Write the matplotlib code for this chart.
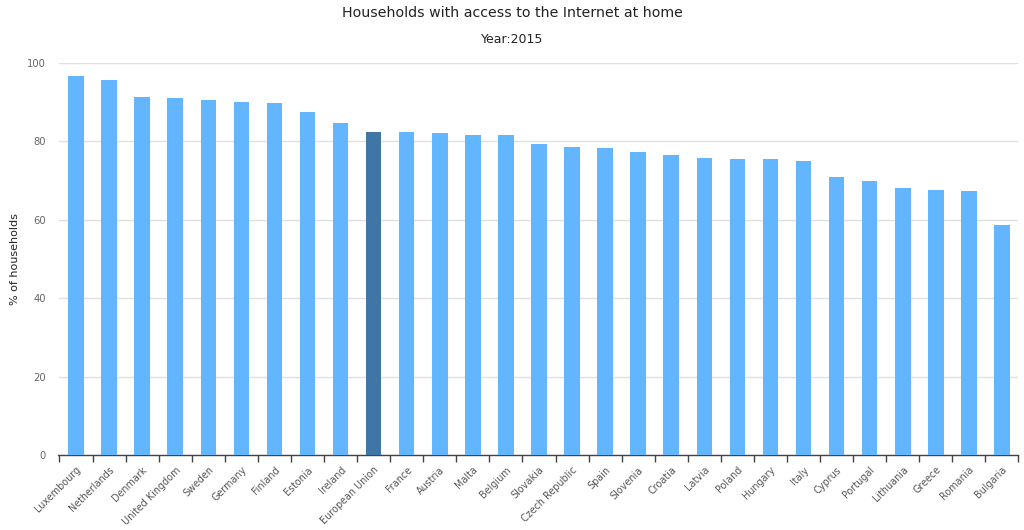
import matplotlib
matplotlib.use("Agg")
import matplotlib.pyplot as plt
import numpy as np

# data (Eurostat, 2015)
countries = ["Luxembourg", "Netherlands", "Denmark", "United Kingdom", "Sweden",
             "Germany", "Finland", "Estonia", "Ireland", "European Union",
             "France", "Austria", "Malta", "Belgium", "Slovakia",
             "Czech Republic", "Spain", "Slovenia", "Croatia", "Latvia",
             "Poland", "Hungary", "Italy", "Cyprus", "Portugal",
             "Lithuania", "Greece", "Romania", "Bulgaria"]
share = [96.6, 95.8, 91.4, 91.0, 90.7,
         90.0, 89.7, 87.4, 84.6, 82.3,
         82.3, 82.1, 81.6, 81.6, 79.3,
         78.7, 78.4, 77.4, 76.6, 75.8,
         75.6, 75.4, 75.1, 70.9, 70.0,
         68.0, 67.7, 67.4, 58.8]
highlight = "European Union"
y_ticks = [0, 20, 40, 60, 80, 100]

light = "#63b6fd"
dark = "#3f76a6"
colors = [dark if c == highlight else light for c in countries]

plt.rcParams['font.family'] = ['DejaVu Sans']

fig = plt.figure(figsize=(10.24, 5.30), dpi=100)
ax = fig.add_axes([0.0581, 0.1415, 0.9365, 0.7395])

x = np.arange(len(countries))
ax.bar(x, share, width=0.47, color=colors, zorder=3)

ax.set_xlim(-0.5, len(countries) - 0.5)
ax.set_ylim(0, 100)
ax.set_yticks(y_ticks)
ax.set_yticklabels([str(v) for v in y_ticks], fontsize=7.2, color="#666666")
ax.yaxis.grid(True, color="#e0e0e0", linewidth=1, zorder=0)
ax.tick_params(axis="y", length=0, pad=10)

ax.set_xticks(x)
ax.set_xticklabels(countries, rotation=45, ha="right", va="top",
                   rotation_mode="anchor", fontsize=6.9, color="#555555")
ax.tick_params(axis="x", which="major", length=0, pad=7)
ax.set_xticks(np.arange(-0.5, len(countries), 1), minor=True)
ax.tick_params(axis="x", which="minor", length=5, width=1, color="#444444")

for side in ["top", "right", "left"]:
    ax.spines[side].set_visible(False)
ax.spines["bottom"].set_color("#444444")
ax.spines["bottom"].set_linewidth(1)
ax.spines["bottom"].set_bounds(-0.55, len(countries) - 0.5)

ax.set_ylabel("% of households", fontsize=8, color="#222222")
ax.yaxis.set_label_coords(-0.041, 0.5)

fig.text(0.5, 0.976, "Households with access to the Internet at home",
         ha="center", va="center", fontsize=10.2, color="#222222")
fig.text(0.5, 0.925, "Year:2015", ha="center", va="center",
         fontsize=9, color="#222222")

fig.savefig("out.png", dpi=100)
